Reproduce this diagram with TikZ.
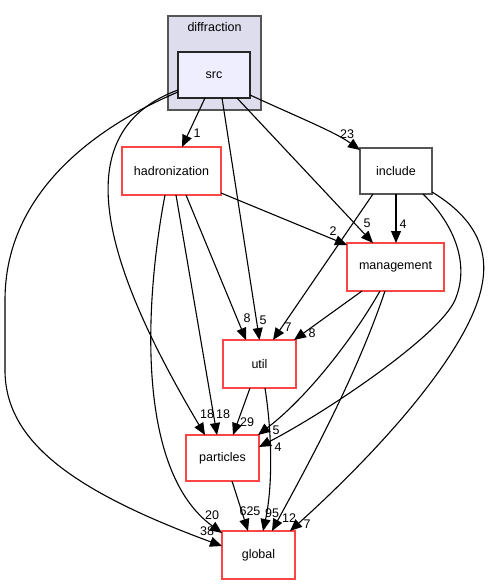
\documentclass[tikz,border=0pt]{standalone}
\usepackage{fontspec}
\setmainfont{Liberation Sans}
\usetikzlibrary{arrows.meta}
\definecolor{dred}{HTML}{FF4646}
\definecolor{dgray}{HTML}{555555}
\definecolor{clfill}{HTML}{DDDDEE}
\definecolor{srcfill}{HTML}{EEEEFF}
\newcommand{\dfont}{\fontsize{12.5}{14}\selectfont}
\tikzset{
  dirbox/.style={draw=dred, line width=1.5pt, fill=white, inner sep=0pt, outer sep=0pt, font=\dfont},
  clusterbox/.style={draw=dgray, line width=1.5pt, fill=clfill, inner sep=0pt, outer sep=0pt},
  srcbox/.style={draw=black!85, line width=1.5pt, fill=srcfill, inner sep=0pt, outer sep=0pt, font=\dfont},
  incbox/.style={draw=dgray, line width=1.5pt, fill=white, inner sep=0pt, outer sep=0pt, font=\dfont},
  edge/.style={line width=1.1pt, black, -{Triangle[length=12pt,width=10pt]}},
  elabel/.style={inner sep=0pt, font=\dfont}
}
\begin{document}
\begin{tikzpicture}[x=1pt,y=-1pt]
\useasboundingbox (0,0) rectangle (490,585);
% cluster
\node[clusterbox, minimum width=93pt, minimum height=94pt] (diffraction) at (214.5,63) {};
\node[elabel] (difflabel) at (214.5,27) {diffraction};
\node[srcbox, minimum width=72pt, minimum height=46pt] (src) at (214,75) {src};
% nodes
\node[dirbox, minimum width=99pt, minimum height=48pt] (hadronization) at (171.5,171) {hadronization};
\node[incbox, minimum width=72pt, minimum height=46pt] (include) at (396,171) {include};
\node[dirbox, minimum width=97pt, minimum height=48pt] (management) at (395.5,267) {management};
\node[dirbox, minimum width=73pt, minimum height=48pt] (util) at (259.5,364) {util};
\node[dirbox, minimum width=73pt, minimum height=46pt] (particles) at (222.5,458) {particles};
\node[dirbox, minimum width=73pt, minimum height=48pt] (global) at (258.5,555) {global};
% edges from src
\draw[edge] ([xshift=-9pt]src.south) -- ([xshift=10.5pt]hadronization.north);
\node[elabel] (l1) at (197,133) {1};
\draw[edge] ([yshift=3pt]src.south east) .. controls (300,118) and (335,132) .. ([yshift=-2pt]include.north west);
\node[elabel] (l2) at (347,134) {23};
\draw[edge] ([xshift=23pt]src.south) -- ([xshift=-22.5pt]management.north);
\node[elabel] (l3) at (367,223) {5};
\draw[edge] ([xshift=8pt]src.south) -- (util.north);
\node[elabel] (l4) at (263,320) {5};
\draw[edge] ([yshift=-15pt]src.west) .. controls (70,130) and (95,250) .. ([xshift=-17.5pt]particles.north);
\node[elabel] (l5) at (207,414) {18};
\draw[edge] ([yshift=-17pt]src.west) .. controls (100,125) and (5,190) .. (5,300) -- (5,370) .. controls (5,440) and (70,490) .. ([yshift=9pt]global.west);
\node[elabel] (l6) at (207,531) {38};
% edges from hadronization
\draw[edge] ([yshift=2pt]hadronization.south east) -- ([yshift=-2pt]management.north west);
\node[elabel] (l7) at (333,231) {2};
\draw[edge] ([xshift=14.5pt]hadronization.south) -- ([xshift=-13.5pt]util.north);
\node[elabel] (l8) at (247,318) {8};
\draw[edge] ([xshift=4.5pt]hadronization.south) -- ([xshift=-5.5pt]particles.north);
\node[elabel] (l9) at (223,414) {18};
\draw[edge] ([xshift=-6.5pt]hadronization.south) .. controls (145,300) and (135,470) .. ([yshift=-2pt]global.north west);
\node[elabel] (l10) at (212,515) {20};
% edges from include
\draw[edge] (include.south) -- ([xshift=0.5pt]management.north);
\node[elabel] (l11) at (403,224) {4};
\draw[edge] ([xshift=-23pt]include.south) -- ([xshift=13.5pt]util.north);
\node[elabel] (l12) at (288,327) {7};
\draw[edge] ([xshift=27pt]include.south) .. controls (455,225) and (470,265) .. (455,300) .. controls (440,335) and (330,410) .. ([yshift=11pt]particles.east);
\node[elabel] (l13) at (278,447) {4};
\draw[edge] ([yshift=2pt]include.south east) .. controls (470,215) and (490,245) .. (482,285) .. controls (470,350) and (380,450) .. ([xshift=-5pt]global.north east);
\node[elabel] (l14) at (307,524) {7};
% edges from management
\draw[edge] ([xshift=-33.5pt]management.south) -- ([xshift=-2pt]util.north east);
\node[elabel] (l15) at (312,333) {8};
\draw[edge] ([xshift=-15.5pt]management.south) .. controls (355,335) and (310,395) .. ([xshift=-1pt]particles.north east);
\node[elabel] (l16) at (276,430) {5};
\draw[edge] ([xshift=-10.5pt]management.south) .. controls (355,380) and (305,470) .. ([xshift=13.5pt]global.north);
\node[elabel] (l17) at (289,518) {12};
% edges from util
\draw[edge] ([xshift=-9.5pt]util.south) -- ([xshift=10.5pt]particles.north);
\node[elabel] (l18) at (247,422) {29};
\draw[edge] ([xshift=5.5pt]util.south) .. controls (273,440) and (272,490) .. ([xshift=4.5pt]global.north);
\node[elabel] (l19) at (272,513) {95};
% particles -> global
\draw[edge] ([xshift=9.5pt]particles.south) -- ([xshift=-10.5pt]global.north);
\node[elabel] (l20) at (250,511) {625};
\end{tikzpicture}
\end{document}
